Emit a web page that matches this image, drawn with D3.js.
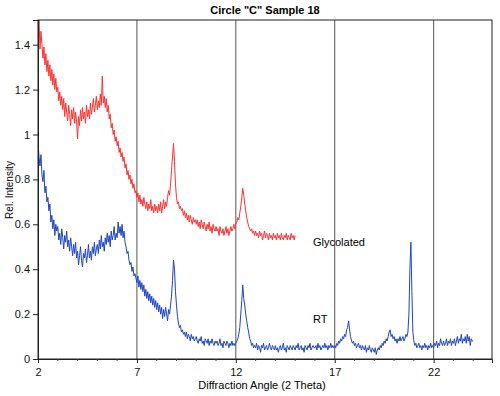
<!DOCTYPE html>
<html>
<head>
<meta charset="utf-8">
<script src="https://cdn.jsdelivr.net/npm/d3@7"></script>
<style>
  body { margin: 0; background: #fff; }
  svg { display: block; font-family: "Liberation Sans", Arial, sans-serif; }
</style>
</head>
<body>
<svg id="chart" width="500" height="396"></svg>
<script>
// scan grid (instrument step)
const angleStart = 2;
const angleStep = 0.05;

const xTicks = [2, 7, 12, 17, 22];
const yTicks = [0, 0.2, 0.4, 0.6, 0.8, 1, 1.2, 1.4];
const gridAngles = [7, 12, 17, 22];

// Glycolated, 2.00 .. 15.00 (one row per degree)
const glycolated = [
  1.42, 1.52, 1.38, 1.46, 1.40, 1.34, 1.39, 1.31, 1.36, 1.28, 1.33, 1.26, 1.31, 1.24, 1.29, 1.22, 1.27, 1.20, 1.25, 1.19,
  1.21, 1.15, 1.19, 1.13, 1.17, 1.11, 1.16, 1.08, 1.14, 1.10, 1.06, 1.13, 1.09, 1.04, 1.11, 1.07, 1.12, 1.05, 1.10, 1.06,
  0.98, 1.08, 1.04, 1.11, 1.06, 1.12, 1.07, 1.10, 1.05, 1.13, 1.08, 1.11, 1.07, 1.14, 1.09, 1.12, 1.16, 1.10, 1.13, 1.17,
  1.11, 1.15, 1.12, 1.18, 1.13, 1.26, 1.14, 1.17, 1.12, 1.16, 1.10, 1.13, 1.07, 1.09, 1.03, 1.05, 1.00, 1.02, 0.97, 0.99,
  0.95, 0.97, 0.92, 0.94, 0.90, 0.92, 0.88, 0.90, 0.85, 0.87, 0.82, 0.84, 0.80, 0.82, 0.78, 0.80, 0.76, 0.78, 0.74, 0.75,
  0.72, 0.74, 0.70, 0.73, 0.69, 0.71, 0.68, 0.72, 0.69, 0.67, 0.70, 0.66, 0.69, 0.67, 0.71, 0.66, 0.68, 0.65, 0.69, 0.66,
  0.68, 0.65, 0.69, 0.66, 0.70, 0.65, 0.68, 0.71, 0.67, 0.70, 0.68, 0.72, 0.75, 0.73, 0.78, 0.84, 0.90, 0.96, 0.88, 0.78,
  0.72, 0.69, 0.70, 0.67, 0.68, 0.66, 0.67, 0.64, 0.66, 0.63, 0.65, 0.62, 0.64, 0.61, 0.64, 0.62, 0.60, 0.63, 0.61, 0.62,
  0.60, 0.62, 0.59, 0.61, 0.58, 0.62, 0.60, 0.58, 0.61, 0.59, 0.57, 0.60, 0.58, 0.61, 0.57, 0.59, 0.56, 0.60, 0.58, 0.57,
  0.59, 0.57, 0.58, 0.55, 0.59, 0.57, 0.56, 0.58, 0.55, 0.57, 0.59, 0.56, 0.58, 0.55, 0.57, 0.59, 0.57, 0.58, 0.60, 0.58,
  0.60, 0.61, 0.63, 0.62, 0.65, 0.68, 0.72, 0.76, 0.73, 0.69, 0.66, 0.63, 0.61, 0.59, 0.58, 0.57, 0.58, 0.56, 0.57, 0.55,
  0.57, 0.55, 0.56, 0.54, 0.57, 0.55, 0.56, 0.53, 0.55, 0.57, 0.54, 0.56, 0.55, 0.53, 0.56, 0.54, 0.55, 0.53, 0.56, 0.54,
  0.55, 0.53, 0.56, 0.54, 0.55, 0.53, 0.56, 0.54, 0.53, 0.55, 0.54, 0.56, 0.53, 0.55, 0.54, 0.53, 0.56, 0.54, 0.55, 0.53,
  0.55
];

// RT, 2.00 .. 24.00 (one row per degree)
const rt = [
  0.97, 0.90, 0.86, 0.91, 0.82, 0.79, 0.84, 0.74, 0.77, 0.70, 0.72, 0.66, 0.69, 0.61, 0.64, 0.58, 0.62, 0.55, 0.60, 0.57,
  0.59, 0.53, 0.56, 0.51, 0.58, 0.54, 0.49, 0.55, 0.52, 0.57, 0.50, 0.53, 0.48, 0.54, 0.50, 0.46, 0.51, 0.47, 0.52, 0.45,
  0.48, 0.42, 0.46, 0.50, 0.44, 0.41, 0.47, 0.45, 0.49, 0.43, 0.46, 0.51, 0.45, 0.48, 0.44, 0.50, 0.47, 0.52, 0.46, 0.49,
  0.51, 0.47, 0.53, 0.49, 0.55, 0.50, 0.52, 0.48, 0.54, 0.51, 0.56, 0.52, 0.55, 0.50, 0.57, 0.53, 0.55, 0.59, 0.53, 0.56,
  0.54, 0.61, 0.56, 0.59, 0.55, 0.60, 0.54, 0.57, 0.52, 0.50, 0.47, 0.48, 0.44, 0.42, 0.43, 0.39, 0.41, 0.37, 0.38, 0.36,
  0.34, 0.37, 0.32, 0.35, 0.31, 0.34, 0.30, 0.33, 0.28, 0.31, 0.27, 0.30, 0.26, 0.29, 0.25, 0.28, 0.24, 0.27, 0.23, 0.26,
  0.22, 0.25, 0.21, 0.24, 0.20, 0.23, 0.18, 0.22, 0.19, 0.23, 0.20, 0.17, 0.22, 0.20, 0.24, 0.28, 0.35, 0.44, 0.40, 0.30,
  0.24, 0.19, 0.16, 0.14, 0.15, 0.12, 0.13, 0.11, 0.12, 0.10, 0.12, 0.09, 0.11, 0.10, 0.08, 0.11, 0.09, 0.10, 0.08, 0.09,
  0.10, 0.08, 0.07, 0.09, 0.08, 0.10, 0.07, 0.08, 0.06, 0.09, 0.08, 0.07, 0.09, 0.06, 0.08, 0.07, 0.09, 0.07, 0.06, 0.08,
  0.07, 0.08, 0.06, 0.07, 0.09, 0.06, 0.07, 0.05, 0.08, 0.07, 0.06, 0.08, 0.07, 0.05, 0.07, 0.06, 0.08, 0.06, 0.07, 0.06,
  0.07, 0.08, 0.09, 0.11, 0.14, 0.20, 0.26, 0.33, 0.27, 0.24, 0.20, 0.17, 0.14, 0.12, 0.09, 0.08, 0.06, 0.07, 0.05, 0.06,
  0.05, 0.07, 0.04, 0.06, 0.05, 0.03, 0.06, 0.05, 0.07, 0.04, 0.05, 0.06, 0.04, 0.05, 0.07, 0.05, 0.04, 0.06, 0.05, 0.04,
  0.06, 0.04, 0.05, 0.03, 0.05, 0.06, 0.04, 0.05, 0.07, 0.04, 0.05, 0.03, 0.06, 0.05, 0.04, 0.06, 0.05, 0.04, 0.06, 0.05,
  0.04, 0.06, 0.05, 0.07, 0.04, 0.05, 0.06, 0.04, 0.05, 0.03, 0.06, 0.05, 0.04, 0.06, 0.05, 0.07, 0.04, 0.05, 0.06, 0.05,
  0.05, 0.06, 0.04, 0.07, 0.05, 0.06, 0.04, 0.05, 0.06, 0.05, 0.07, 0.05, 0.06, 0.04, 0.06, 0.05, 0.07, 0.05, 0.06, 0.05,
  0.06, 0.05, 0.07, 0.06, 0.08, 0.07, 0.09, 0.08, 0.10, 0.09, 0.11, 0.10, 0.13, 0.14, 0.17, 0.13, 0.10, 0.08, 0.07, 0.08,
  0.06, 0.07, 0.05, 0.06, 0.07, 0.05, 0.06, 0.04, 0.06, 0.05, 0.04, 0.06, 0.03, 0.05, 0.04, 0.06, 0.04, 0.03, 0.05, 0.04,
  0.03, 0.05, 0.02, 0.04, 0.05, 0.04, 0.06, 0.05, 0.07, 0.06, 0.08, 0.07, 0.09, 0.08, 0.10, 0.12, 0.13, 0.10, 0.11, 0.09,
  0.10, 0.08, 0.09, 0.07, 0.09, 0.08, 0.10, 0.08, 0.09, 0.10, 0.08, 0.09, 0.11, 0.10, 0.12, 0.20, 0.40, 0.52, 0.30, 0.12,
  0.08, 0.06, 0.07, 0.05, 0.06, 0.07, 0.05, 0.06, 0.04, 0.06, 0.05, 0.07, 0.05, 0.06, 0.04, 0.06, 0.05, 0.07, 0.05, 0.06,
  0.05, 0.07, 0.06, 0.08, 0.05, 0.07, 0.06, 0.09, 0.07, 0.06, 0.08, 0.06, 0.07, 0.09, 0.06, 0.08, 0.07, 0.09, 0.06, 0.08,
  0.07, 0.09, 0.06, 0.08, 0.10, 0.07, 0.09, 0.08, 0.11, 0.07, 0.09, 0.08, 0.10, 0.07, 0.11, 0.08, 0.10, 0.06, 0.09, 0.08,
  0.08
];

const margin = {top: 20, right: 8, bottom: 37, left: 38};
const width = 500 - margin.left - margin.right;
const height = 396 - margin.top - margin.bottom;

const svg = d3.select("#chart");
const g = svg.append("g")
    .attr("transform", "translate(" + margin.left + "," + margin.top + ")");

const x = d3.scaleLinear().domain([2, 24.95]).range([0, width]);
const y = d3.scaleLinear().domain([0, 1.51]).range([height, 0]);

// vertical grid lines
g.selectAll(".grid")
    .data(gridAngles)
    .enter()
    .append("line")
    .attr("x1", d => x(d)).attr("x2", d => x(d))
    .attr("y1", 0).attr("y2", height)
    .attr("stroke", "#555")
    .attr("stroke-width", 1);

const toPoints = vals => vals.map((v, i) => [angleStart + i * angleStep, v]);
const line = d3.line()
    .x(d => x(d[0]))
    .y(d => y(d[1]));

g.append("clipPath").attr("id", "plotClip")
  .append("rect").attr("width", width).attr("height", height);

g.append("path")
    .datum(toPoints(glycolated))
    .attr("clip-path", "url(#plotClip)")
    .attr("fill", "none")
    .attr("stroke", "#ff3030")
    .attr("stroke-width", 1)
    .attr("d", line);

g.append("path")
    .datum(toPoints(rt))
    .attr("clip-path", "url(#plotClip)")
    .attr("fill", "none")
    .attr("stroke", "#1d44c8")
    .attr("stroke-width", 1)
    .attr("d", line);

// frame
g.append("rect")
    .attr("width", width).attr("height", height)
    .attr("fill", "none")
    .attr("stroke", "#222")
    .attr("stroke-width", 1);

// axes
const xAxis = d3.axisBottom(x).tickValues(xTicks).tickSize(4).tickFormat(d3.format("d"));
const yAxis = d3.axisLeft(y).tickValues(yTicks).tickSize(5).tickFormat(d => d);

const xg = g.append("g")
    .attr("transform", "translate(0," + height + ")")
    .call(xAxis);
const yg = g.append("g").call(yAxis);

[xg, yg].forEach(a => {
  a.select(".domain").attr("stroke", "#222");
  a.selectAll(".tick line").attr("stroke", "#222");
  a.selectAll(".tick text").attr("fill", "#111").style("font-size", "11px");
});
xg.selectAll(".tick text").attr("dy", "0.9em");

// minor ticks on x
g.selectAll(".minor")
    .data(d3.range(3, 25).filter(v => !xTicks.includes(v)))
    .enter()
    .append("line")
    .attr("x1", d => x(d)).attr("x2", d => x(d))
    .attr("y1", height).attr("y2", height + 2)
    .attr("stroke", "#444");

// titles
svg.append("text")
    .attr("x", 265).attr("y", 14)
    .attr("text-anchor", "middle")
    .attr("font-weight", "bold")
    .style("font-size", "11px")
    .text('Circle "C" Sample 18');

svg.append("text")
    .attr("x", 262).attr("y", 389)
    .attr("text-anchor", "middle")
    .style("font-size", "11px")
    .text("Diffraction Angle (2 Theta)");

svg.append("text")
    .attr("transform", "translate(13,190) rotate(-90)")
    .attr("text-anchor", "middle")
    .style("font-size", "10px")
    .text("Rel. Intensity");

// series labels
g.append("text")
    .attr("x", x(15.9)).attr("y", y(0.505))
    .style("font-size", "11px")
    .text("Glycolated");

g.append("text")
    .attr("x", x(15.9)).attr("y", y(0.16))
    .style("font-size", "11px")
    .text("RT");
</script>
</body>
</html>
